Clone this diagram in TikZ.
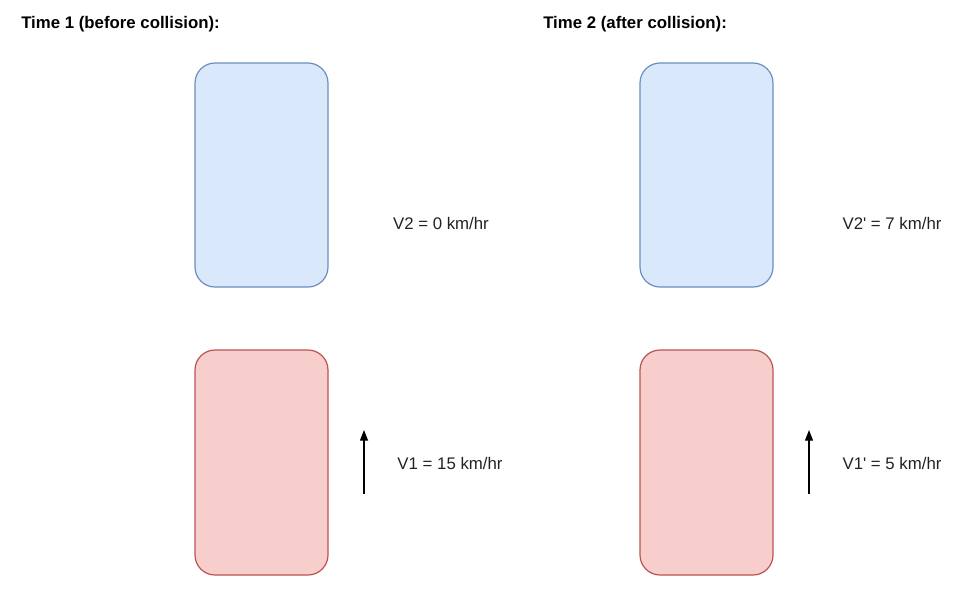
\documentclass[tikz,border=0pt]{standalone}
\usepackage{fontspec}
\setmainfont{Liberation Sans}
\usetikzlibrary{arrows.meta}
\definecolor{bfill}{HTML}{DAE8FC}
\definecolor{bdraw}{HTML}{6C8EBF}
\definecolor{rfill}{HTML}{F8CECC}
\definecolor{rdraw}{HTML}{B85450}
\definecolor{txt}{HTML}{222222}
\begin{document}
\begin{tikzpicture}[x=0.75pt,y=-0.75pt,
  car/.style={rounded corners=15pt,line width=0.9pt},
  bluecar/.style={car,fill=bfill,draw=bdraw},
  redcar/.style={car,fill=rfill,draw=rdraw},
  lbl/.style={font=\fontsize{12.6}{14}\selectfont,text=txt,inner sep=0pt},
  ttl/.style={font=\fontsize{12.6}{14}\selectfont\bfseries,text=black,inner sep=0pt,anchor=west},
  mv/.style={-{Triangle[length=8pt,width=6pt]},line width=0.9pt}]
\useasboundingbox (0,0) rectangle (978,590);
\node[ttl] (t1) at (21,24) {Time 1 (before collision):};
\node[ttl] (t2) at (543,24) {Time 2 (after collision):};
\draw[bluecar] (195,63) rectangle (328,287);
\draw[redcar] (195,350) rectangle (328,575);
\draw[bluecar] (640,63) rectangle (773,287);
\draw[redcar] (640,350) rectangle (773,575);
\node[lbl] (v2) at (441,223) {V2 = 0 km/hr};
\node[lbl] (v1) at (450,463) {V1 = 15 km/hr};
\node[lbl] (v2p) at (892,223) {V2\textquotesingle{} = 7 km/hr};
\node[lbl] (v1p) at (892,463) {V1\textquotesingle{} = 5 km/hr};
\coordinate (a1s) at (364,494);
\coordinate (a1e) at (364,430);
\coordinate (a2s) at (809,494);
\coordinate (a2e) at (809,430);
\draw[mv] (a1s) -- (a1e);
\draw[mv] (a2s) -- (a2e);
\end{tikzpicture}
\end{document}
